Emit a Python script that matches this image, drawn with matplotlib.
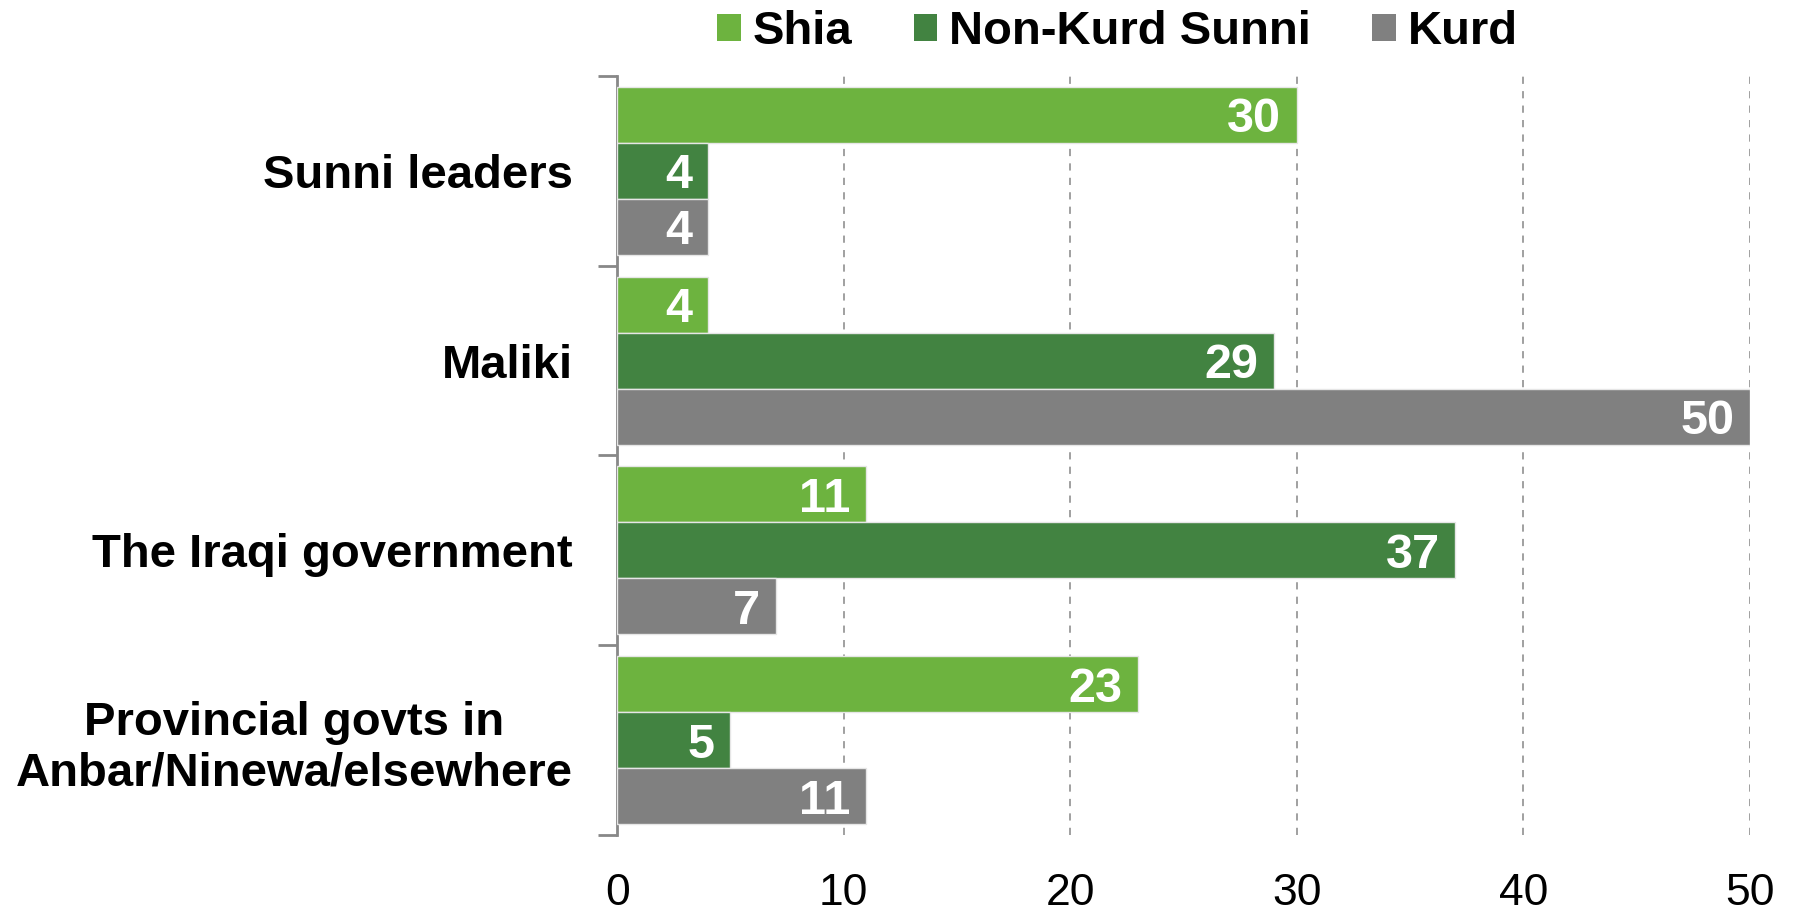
import numpy as np
import matplotlib.pyplot as plt
from matplotlib.patches import Patch

categories = ["Sunni leaders", "Maliki", "The Iraqi government",
              "Provincial govts in\nAnbar/Ninewa/elsewhere"]
series = ["Shia", "Non-Kurd Sunni", "Kurd"]
shia = [30, 4, 11, 23]
sunni = [4, 29, 37, 5]
kurd = [4, 50, 7, 11]
colors = ["#6db33f", "#428341", "#808080"]
xticks = [0, 10, 20, 30, 40, 50]

fonts = ["Liberation Sans", "DejaVu Sans"]

fig = plt.figure(figsize=(17.94, 9.15), dpi=100)
ax = fig.add_axes([0.344, 0.0874, 0.6315, 0.8296])

n = len(categories)
centers = np.arange(n)[::-1] + 0.5
h = 0.295
for k, (vals, col) in enumerate(zip([shia, sunni, kurd], colors)):
    ys = centers + (1 - k) * h
    ax.barh(ys, vals, height=h, color=col, edgecolor="#e6e6e6",
            linewidth=1, zorder=3)
    for y, v in zip(ys, vals):
        ax.text(v - 0.7, y, str(v), ha="right", va="center_baseline",
                color="white", fontsize=35, fontweight="bold",
                family=fonts, zorder=4)

ax.set_xlim(0, 50)
ax.set_ylim(0, n)
ax.set_xticks(xticks)
ax.set_xticklabels([str(t) for t in xticks], fontsize=32, family=fonts)
ax.tick_params(axis="x", length=0, pad=27)
for t in xticks[1:]:
    ax.axvline(t, color="#999999", linestyle=(0, (4, 4)), linewidth=1.3, zorder=1)

ax.set_yticks(np.arange(n + 1))
ax.set_yticklabels([])
ax.tick_params(axis="y", length=14, width=2, color="#888888", direction="out")
ax.set_yticks(centers, minor=True)
ax.set_yticklabels(categories, minor=True, fontsize=34, fontweight="bold",
                   family=fonts, ha="right", multialignment="center")
ax.tick_params(axis="y", which="minor", length=0, pad=32)

for s in ["top", "right", "bottom"]:
    ax.spines[s].set_visible(False)
ax.spines["left"].set_color("#888888")
ax.spines["left"].set_linewidth(2)

handles = [Patch(facecolor=c, label=s) for c, s in zip(colors, series)]
fig.legend(handles=handles, loc="upper center", bbox_to_anchor=(0.623, 1.035),
           ncol=3, frameon=False, handlelength=0.5, handleheight=0.5,
           handletextpad=0.25, columnspacing=1.3,
           prop={"family": fonts, "weight": "bold", "size": 34})

fig.savefig("out.png", dpi=100)
